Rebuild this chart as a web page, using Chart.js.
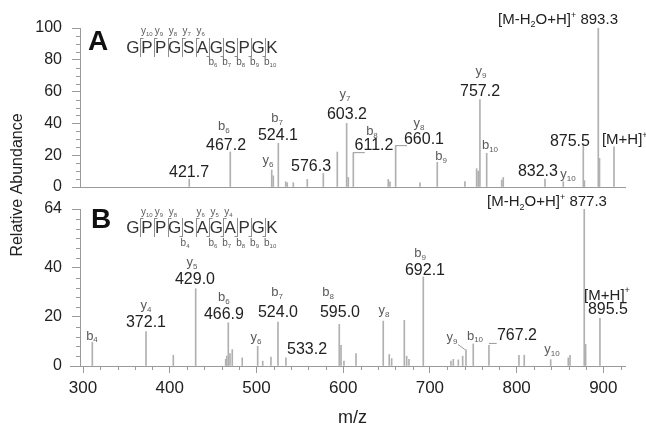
<!DOCTYPE html>
<html>
<head>
<meta charset="utf-8">
<script src="https://cdn.jsdelivr.net/npm/chart.js@4/dist/chart.umd.min.js"></script>
<style>
  html, body { margin: 0; padding: 0; background: #fff; }
  #wrap { position: relative; width: 646px; height: 430px; }
  #wrap canvas { position: absolute; left: 0; top: 0; }
</style>
</head>
<body>
<div id="wrap">
  <canvas id="panelA" width="646" height="430"></canvas>
  <canvas id="panelB" width="646" height="430"></canvas>
</div>
<script>
// panel A: GPPGSAGSPGK
const mzA = [422.5, 469.8, 517.6, 519.4, 525.2, 533.7, 535.5, 542.5, 558.6, 577.1, 593.2, 604.0, 605.9,
  611.7, 652.0, 654.0, 660.5, 688.6, 708.5, 740.4, 753.9, 755.8, 757.7, 765.5, 782.8, 784.6, 832.7, 853.8,
  876.9, 878.2, 894.2, 895.6, 912.3];
const intA = [5, 22, 10.7, 7, 27.5, 3.3, 2.7, 2.7, 4.8, 8.5, 22, 40, 6,
  21.6, 4.8, 3.3, 26, 2.7, 15.5, 3.4, 11.5, 10, 55, 21.2, 4.4, 6, 5, 3.4,
  27, 4, 100, 18, 25.3];

// panel B: GPPGSAGAPGK
const mzB = [310.7, 372.6, 404.1, 429.9, 464.5, 465.7, 467.5, 469.5, 472.1, 483.6, 501.4, 507.2, 516.7,
  524.8, 534.0, 595.5, 597.5, 600.9, 614.8, 646.2, 653.1, 655.9, 670.5, 673.2, 675.9, 692.4, 724.3, 727.0,
  732.8, 737.8, 741.6, 750.0, 768.1, 802.7, 808.8, 839.3, 859.6, 861.6, 878.0, 879.6, 896.1];
const intB = [9.7, 14, 4.4, 31.5, 2.7, 4, 17.6, 5.1, 6.7, 3.3, 8, 2, 3.6,
  17.9, 3.3, 17, 8.4, 2, 5.1, 18.3, 4.7, 3, 18.6, 4, 2.7, 36.3, 2, 2.7,
  2.5, 4, 6.7, 9, 8.4, 4.4, 4.4, 2.6, 3.3, 4.4, 64, 8.8, 19.4];

const xTicks = [300, 400, 500, 600, 700, 800, 900];
const yTicksA = [0, 20, 40, 60, 80, 100];
const yTicksB = [0, 20, 40, 64];

// peak annotations: [text, m/z, abundance]
const numLabelsA = [['421.7', 422.3, 6.3], ['467.2', 464.9, 23.3], ['524.1', 524.8, 29.6], ['576.3', 562.9, 10.1],
  ['603.2', 604.4, 42.8], ['611.2', 635.5, 23.3], ['660.1', 693.2, 27], ['757.2', 757.8, 57.2],
  ['832.3', 824.6, 6.9], ['875.5', 861.5, 25.8]];
const ionLabelsA = [['b', '6', 462.5, 35.8], ['b', '7', 523.7, 40.9], ['y', '6', 513.3, 14.5], ['y', '7', 602.1, 56],
  ['b', '8', 633.2, 32.7], ['y', '8', 687.4, 37.7], ['b', '9', 712.8, 17], ['y', '9', 758.9, 70.4],
  ['b', '10', 769.3, 23.9], ['y', '10', 859.2, 5.7]];
const numLabelsB = [['372.1', 372.6, 16.1], ['429.0', 429.1, 33.3], ['466.9', 462.5, 19], ['524.0', 524.8, 19.8],
  ['533.2', 558.3, 4.7], ['595.0', 596.3, 19.8], ['692.1', 694.3, 36.9], ['767.2', 800.4, 10.4], ['895.5', 905.3, 21]];
const ionLabelsB = [['b', '4', 310.3, 10.8], ['y', '4', 372.6, 23.1], ['y', '5', 425.6, 40.6], ['b', '6', 462.5, 26.3],
  ['y', '6', 499.5, 10], ['b', '7', 523.7, 28.4], ['b', '8', 582.5, 28.4], ['y', '8', 647.1, 21],
  ['b', '9', 688.6, 44.3], ['y', '9', 725.5, 10], ['b', '10', 752, 10.8], ['y', '10', 840.8, 5.1]];
const leadersA = [[611.7, 21.6, 625, 21.6], [660.5, 26, 673.6, 26]];
const leadersB = [[768.1, 9.2, 777, 9.2], [732.3, 8.8, 740.4, 6.7]];

const FONT = '"Liberation Sans", Arial, Helvetica, sans-serif';
const AXIS = '#9a9a9a', PEAK = '#b0b0b0', TEXT = '#222', ION = '#5a5a5a';
Chart.defaults.font.family = FONT;

function setFont(ctx, size, bold) {
  ctx.font = (bold ? 'bold ' : '') + size + 'px ' + FONT;
}

// runs: [text, shift]  shift -1 = subscript, 1 = superscript
function drawRuns(ctx, runs, x, y, size, align) {
  const small = Math.round(size * 0.62);
  let total = 0;
  runs.forEach(r => { setFont(ctx, r[1] ? small : size); total += ctx.measureText(r[0]).width; });
  let cx = align === 'right' ? x - total : align === 'center' ? x - total / 2 : x;
  ctx.textAlign = 'left';
  ctx.textBaseline = 'alphabetic';
  runs.forEach(r => {
    setFont(ctx, r[1] ? small : size);
    const dy = r[1] < 0 ? size * 0.22 : r[1] > 0 ? -size * 0.42 : 0;
    ctx.fillText(r[0], cx, y + dy);
    cx += ctx.measureText(r[0]).width;
  });
}

function panelPlugin(p) {
  return {
    id: 'panel' + p.tag,
    afterDraw(chart) {
      const { ctx, chartArea: a, scales: { x, y } } = chart;
      ctx.save();
      ctx.strokeStyle = AXIS;
      ctx.lineWidth = 1;
      ctx.beginPath();
      for (let v = 0; v <= y.max; v += p.yMinor) {
        if (p.yTicks.includes(v)) continue;
        const py = Math.round(y.getPixelForValue(v)) + 0.5;
        ctx.moveTo(a.left - 4, py);
        ctx.lineTo(a.left, py);
      }
      if (p.xMinor) {
        for (let v = xTicks[0]; v <= x.max; v += p.xMinor) {
          if (v % 100 === 0) continue;
          const px = Math.round(x.getPixelForValue(v)) + 0.5;
          ctx.moveTo(px, a.bottom);
          ctx.lineTo(px, a.bottom + 4);
        }
        ctx.moveTo(a.left - 10, Math.round(a.bottom) + 0.5);
        ctx.lineTo(a.left, Math.round(a.bottom) + 0.5);
      }
      p.leaders.forEach(([x1, y1, x2, y2]) => {
        ctx.moveTo(x.getPixelForValue(x1), y.getPixelForValue(y1));
        ctx.lineTo(x.getPixelForValue(x2), y.getPixelForValue(y2));
      });
      ctx.stroke();

      // peak labels
      ctx.fillStyle = TEXT;
      p.nums.forEach(([t, m, v]) => drawRuns(ctx, [[t, 0]], x.getPixelForValue(m), y.getPixelForValue(v), 16, 'center'));
      ctx.fillStyle = ION;
      p.ions.forEach(([l, n, m, v]) => drawRuns(ctx, [[l, 0], [n, -1]], x.getPixelForValue(m), y.getPixelForValue(v), 13, 'center'));
      ctx.fillStyle = TEXT;
      drawRuns(ctx, [['[M-H', 0], ['2', -1], ['O+H]', 0], ['+', 1], [' ' + p.loss[0], 0]],
        x.getPixelForValue(p.loss[1]), y.getPixelForValue(p.loss[2]), 15, 'right');
      drawRuns(ctx, [['[M+H]', 0], ['+', 1]], x.getPixelForValue(p.mh[0]), y.getPixelForValue(p.mh[1]), 15, p.mh[2]);

      // panel letter
      ctx.fillStyle = '#111';
      setFont(ctx, 28, true);
      ctx.textAlign = 'left';
      ctx.fillText(p.tag, a.left + p.tagDx, a.top + p.tagDy);

      // sequence inset
      const L = a.left + 46, P = 13.9, base = a.top + p.seqDy;
      ctx.fillStyle = '#333';
      setFont(ctx, 17);
      ctx.textAlign = 'center';
      [...p.seq].forEach((c, i) => ctx.fillText(c, L + (i + 0.5) * P, base));
      ctx.strokeStyle = '#8c8c8c';
      ctx.beginPath();
      const gapX = k => Math.round(L + k * P) + 0.5;
      const cuts = new Set([...p.yCuts.map(c => c[0]), ...p.bCuts.map(c => c[0])]);
      cuts.forEach(k => { ctx.moveTo(gapX(k), base - 15); ctx.lineTo(gapX(k), base + 4); });
      p.yCuts.forEach(([k]) => { ctx.moveTo(gapX(k), base - 14.5); ctx.lineTo(gapX(k) + 3, base - 14.5); });
      p.bCuts.forEach(([k]) => { ctx.moveTo(gapX(k), base + 3.5); ctx.lineTo(gapX(k) - 3, base + 3.5); });
      ctx.stroke();
      ctx.fillStyle = ION;
      p.yCuts.forEach(([k, n]) => drawRuns(ctx, [['y', 0], [n, -1]], L + k * P + 1, base - p.yLabDy, 10, 'left'));
      p.bCuts.forEach(([k, n]) => drawRuns(ctx, [['b', 0], [n, -1]], L + k * P - 1, base + p.bLabDy, 10, 'left'));

      if (p.yTitle) {
        ctx.fillStyle = TEXT;
        setFont(ctx, 16);
        ctx.translate(17.5, 185);
        ctx.rotate(-Math.PI / 2);
        ctx.textAlign = 'center';
        ctx.textBaseline = 'middle';
        ctx.fillText('Relative Abundance', 0, 0);
      }
      ctx.restore();
    }
  };
}

function yScale(max, ticks) {
  return {
    min: 0, max: max,
    afterBuildTicks: s => { s.ticks = ticks.map(v => ({ value: v })); },
    afterFit: s => { s.width = 80; s.paddingTop = 0; s.paddingBottom = 0; },
    ticks: { color: TEXT, font: { size: 16 }, padding: 10 },
    grid: { drawOnChartArea: false, tickLength: 8, color: AXIS },
    border: { color: AXIS }
  };
}

function peakChart(id, mz, ab, padding, scales, plugin) {
  return new Chart(document.getElementById(id), {
    type: 'bar',
    data: {
      datasets: [{
        data: mz.map((m, i) => ({ x: m, y: ab[i] })),
        backgroundColor: PEAK,
        borderWidth: 0,
        barThickness: 1
      }]
    },
    options: {
      responsive: false,
      animation: false,
      events: [],
      layout: { padding: padding },
      plugins: { legend: { display: false }, tooltip: { enabled: false } },
      scales: scales
    },
    plugins: [plugin]
  });
}

peakChart('panelA', mzA, intA, { left: 0, top: 28, right: 21, bottom: 243 }, {
  x: {
    type: 'linear', min: 296.5, max: 925, offset: false,
    afterFit: s => { s.height = 0; s.paddingLeft = 0; s.paddingRight = 0; },
    ticks: { display: false },
    grid: { display: false, drawTicks: false, offset: false },
    border: { color: AXIS }
  },
  y: yScale(100, yTicksA)
}, panelPlugin({
  tag: 'A', tagDx: 8, tagDy: 22, yMinor: 5, yTicks: yTicksA, xMinor: 0,
  nums: numLabelsA, ions: ionLabelsA, leaders: leadersA,
  loss: ['893.3', 916.9, 102.5], mh: [898.4, 27, 'left'],
  seq: 'GPPGSAGSPGK', seqDy: 25, yLabDy: 19, bLabDy: 12,
  yCuts: [[1, '10'], [2, '9'], [3, '8'], [4, '7'], [5, '6']],
  bCuts: [[6, '6'], [7, '7'], [8, '8'], [9, '9'], [10, '10']],
  yTitle: true
}));

peakChart('panelB', mzB, intB, { left: 0, top: 209, right: 21, bottom: 0 }, {
  x: {
    type: 'linear', min: 296.5, max: 925, offset: false,
    afterBuildTicks: s => { s.ticks = xTicks.map(v => ({ value: v })); },
    afterFit: s => { s.height = 64; s.paddingLeft = 0; s.paddingRight = 0; },
    ticks: { color: TEXT, font: { size: 17 }, padding: 5, maxRotation: 0, autoSkip: false },
    grid: { drawOnChartArea: false, tickLength: 7, color: AXIS, offset: false },
    border: { color: AXIS },
    title: { display: true, text: 'm/z', color: TEXT, font: { size: 18 }, padding: { top: 0, bottom: 1 } }
  },
  y: yScale(64, yTicksB)
}, panelPlugin({
  tag: 'B', tagDx: 11, tagDy: 19, yMinor: 4, yTicks: yTicksB, xMinor: 20,
  nums: numLabelsB, ions: ionLabelsB, leaders: leadersB,
  loss: ['877.3', 904.2, 65.1], mh: [904.2, 27.1, 'center'],
  seq: 'GPPGSAGAPGK', seqDy: 24, yLabDy: 18, bLabDy: 13,
  yCuts: [[1, '10'], [2, '9'], [3, '8'], [5, '6'], [6, '5'], [7, '4']],
  bCuts: [[4, '4'], [6, '6'], [7, '7'], [8, '8'], [9, '9'], [10, '10']],
  yTitle: false
}));
</script>
</body>
</html>
